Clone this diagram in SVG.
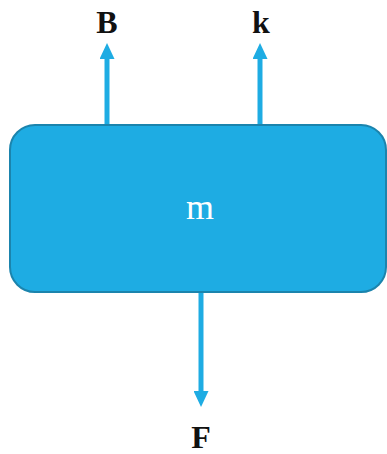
<svg xmlns="http://www.w3.org/2000/svg" width="387" height="454" viewBox="0 0 387 454">
  <style>
    .label { font-family: "Liberation Serif", "Times New Roman", serif; font-weight: bold; font-size: 32px; fill: #111; text-anchor: middle; }
    .body { fill: #1eace3; stroke: #1b84ad; stroke-width: 2; }
    .mass { font-family: "Liberation Serif", "Times New Roman", serif; font-size: 36px; fill: #ffffff; text-anchor: middle; }
    .edge { stroke: #1eace3; stroke-width: 5; fill: none; }
  </style>
  <defs>
    <marker id="head" viewBox="0 0 16 15" refX="1" refY="7.5" markerWidth="16" markerHeight="15" markerUnits="userSpaceOnUse" orient="auto">
      <path d="M0,0 L16,7.5 L0,15 Z" fill="#1eace3"/>
    </marker>
  </defs>
  <g id="connectors">
    <line class="edge" x1="107" y1="125" x2="107" y2="58" marker-end="url(#head)"/>
    <line class="edge" x1="260" y1="125" x2="260" y2="58" marker-end="url(#head)"/>
    <line class="edge" x1="201" y1="292" x2="201" y2="392" marker-end="url(#head)"/>
  </g>
  <g id="node-m">
    <rect class="body" x="10" y="125" width="376" height="167" rx="25" ry="25"/>
    <text class="mass" x="200" y="219">m</text>
  </g>
  <g id="node-B">
    <text class="label" x="107" y="33">B</text>
  </g>
  <g id="node-k">
    <text class="label" x="261" y="33">k</text>
  </g>
  <g id="node-F">
    <text class="label" x="201" y="448">F</text>
  </g>
</svg>
